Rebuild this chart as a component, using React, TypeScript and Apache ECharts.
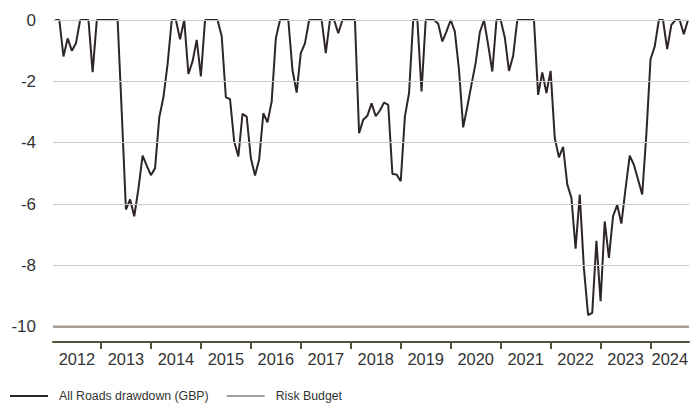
import { useEffect, useRef } from "react";
import * as echarts from "echarts";

// Monthly drawdown (%), month-end values, by calendar year
const firstYear = 2012;
const dd2012 = [0, 0, -1.19, -0.6, -1.0, -0.76, 0, 0, 0, -1.7, 0, 0];
const dd2013 = [0, 0, 0, 0, -3.04, -6.18, -5.85, -6.4, -5.5, -4.42, -4.75, -5.06];
const dd2014 = [-4.83, -3.18, -2.52, -1.45, 0, 0, -0.63, 0, -1.76, -1.35, -0.65, -1.84];
const dd2015 = [0, 0, 0, 0, -0.53, -2.52, -2.58, -3.96, -4.45, -3.06, -3.15, -4.5];
const dd2016 = [-5.07, -4.55, -3.04, -3.34, -2.66, -0.6, 0, 0, 0, -1.63, -2.37, -1.08];
const dd2017 = [-0.76, 0, 0, 0, 0, -1.08, 0, 0, -0.43, 0, 0, 0];
const dd2018 = [0, -3.69, -3.25, -3.12, -2.72, -3.14, -2.95, -2.69, -2.77, -5.02, -5.04, -5.26];
const dd2019 = [-3.15, -2.38, 0, 0, -2.33, 0, 0, 0, -0.12, -0.7, -0.37, 0];
const dd2020 = [-0.38, -1.63, -3.5, -2.82, -2.1, -1.4, -0.4, 0, -0.81, -1.68, 0, 0];
const dd2021 = [-0.57, -1.66, -1.17, 0, 0, 0, 0, 0, -2.44, -1.71, -2.38, -1.66];
const dd2022 = [-3.85, -4.48, -4.14, -5.36, -5.8, -7.46, -5.69, -8.1, -9.62, -9.55, -7.2, -9.17];
const dd2023 = [-6.57, -7.76, -6.4, -6.03, -6.64, -5.5, -4.42, -4.72, -5.2, -5.69, -3.72, -1.28];
const dd2024 = [-0.87, 0, 0, -0.95, -0.16, 0, 0, -0.46, 0];

const drawdownByYear = [
  dd2012, dd2013, dd2014, dd2015, dd2016, dd2017, dd2018,
  dd2019, dd2020, dd2021, dd2022, dd2023, dd2024,
];

const riskBudget = -10;
const yearLabels = [2012, 2013, 2014, 2015, 2016, 2017, 2018, 2019, 2020, 2021, 2022, 2023, 2024];
const yearTicks = [2013, 2014, 2015, 2016, 2017, 2018, 2019, 2020, 2021, 2022, 2023, 2024];
const yTickLabels = [0, -2, -4, -6, -8, -10];
const yGridValues = [0, -2, -4, -6, -8];

const xMin = 2012.04;
const xMax = 2024.77;
const yMin = -10.5;
const yMax = 0;

const seriesNames = ["All Roads drawdown (GBP)", "Risk Budget"];

const font = "'Liberation Sans', Arial, sans-serif";

export default function App() {
  const ref = useRef<HTMLDivElement>(null);

  useEffect(() => {
    if (!ref.current) return;
    const chart = echarts.init(ref.current, undefined, { renderer: "svg" });

    const points: [number, number][] = [];
    drawdownByYear.forEach((arr, k) =>
      arr.forEach((v, m) => points.push([firstYear + k + (m + 1) / 12, v]))
    );
    const labelValues = yearLabels.map(
      (y) => (Math.max(y, xMin) + Math.min(y + 1, xMax)) / 2
    );

    chart.setOption({
      animation: false,
      grid: { left: 53, right: 10, top: 20, bottom: 64, containLabel: false },
      legend: {
        data: seriesNames.map((n) => ({ name: n, icon: "rect" })),
        left: 10,
        top: 390,
        padding: 0,
        itemWidth: 38,
        itemHeight: 2,
        itemGap: 18,
        textStyle: { fontFamily: font, fontSize: 12.3, color: "#333333", padding: [0, 0, 0, 6] },
        selectedMode: false,
      },
      xAxis: {
        type: "value",
        min: xMin,
        max: xMax,
        axisLine: { show: true, onZero: false, lineStyle: { color: "#4f5539", width: 2 } },
        axisTick: {
          show: true,
          customValues: yearTicks,
          length: 7,
          lineStyle: { color: "#4f5539", width: 2 },
        },
        axisLabel: {
          customValues: labelValues,
          formatter: (v: number) => String(Math.floor(v)),
          fontFamily: font,
          fontSize: 16.4,
          color: "#333333",
          margin: 9,
        },
        splitLine: { show: false },
      },
      yAxis: {
        type: "value",
        min: yMin,
        max: yMax,
        axisLine: { show: false },
        axisTick: { show: false },
        splitLine: { show: false },
        axisLabel: {
          customValues: yTickLabels,
          fontFamily: font,
          fontSize: 17,
          color: "#333333",
          margin: 17,
          padding: [0, 0, 6, 0],
        },
      },
      series: [
        {
          type: "line",
          name: "grid",
          data: [],
          silent: true,
          markLine: {
            silent: true,
            symbol: ["none", "none"],
            label: { show: false },
            lineStyle: { color: "#c9c9c9", width: 1, type: "solid" },
            data: yGridValues.map((v) => ({ yAxis: v })),
          },
        },
        {
          type: "line",
          name: seriesNames[1],
          data: [
            [xMin, riskBudget],
            [xMax, riskBudget],
          ],
          symbol: "none",
          lineStyle: { color: "#a99f99", width: 2.5 },
          itemStyle: { color: "#a99f99" },
        },
        {
          type: "line",
          name: seriesNames[0],
          data: points,
          symbol: "none",
          lineStyle: { color: "#2e2626", width: 2 },
          itemStyle: { color: "#2e2626" },
        },
      ],
    });

    return () => chart.dispose();
  }, []);

  return (
    <div
      ref={ref}
      style={{ position: "fixed", left: 0, top: 0, width: 699, height: 406, background: "#ffffff" }}
    />
  );
}
